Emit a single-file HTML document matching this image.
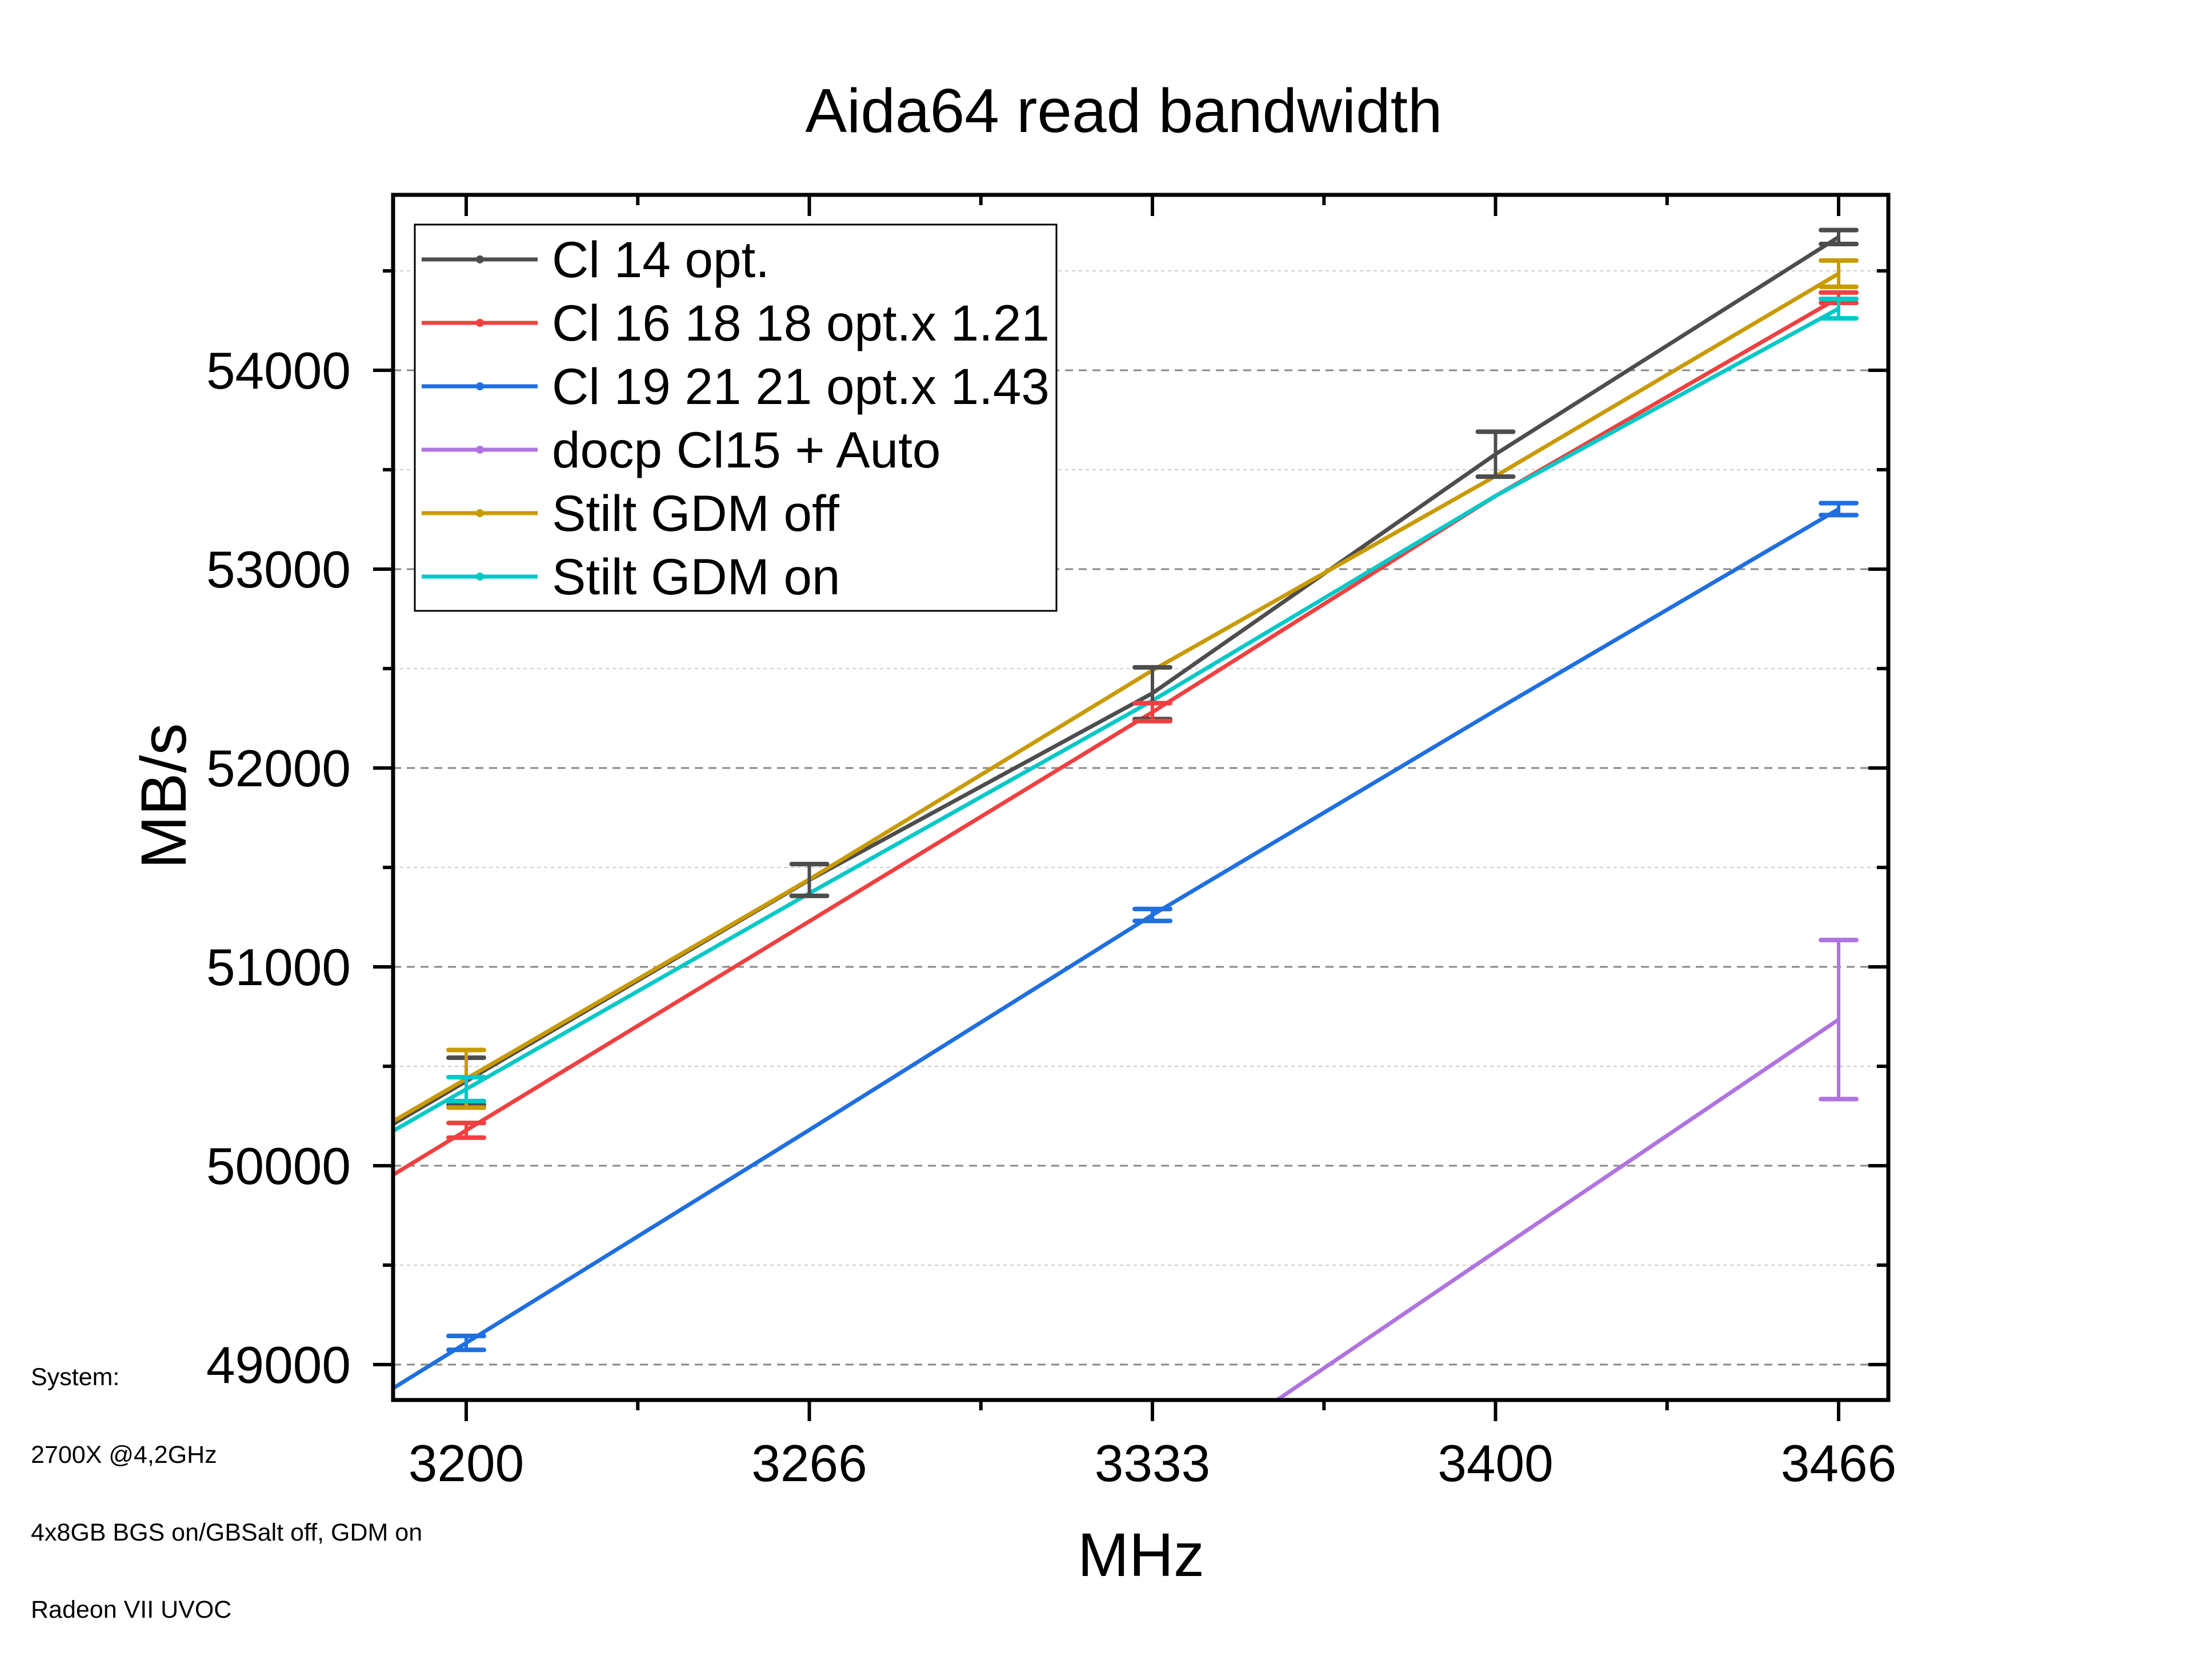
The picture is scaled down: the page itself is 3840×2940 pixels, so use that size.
<!DOCTYPE html>
<html><head><meta charset="utf-8">
<style>
html,body{margin:0;padding:0;background:#fff;overflow:hidden;width:3840px;height:2940px;}
svg{display:block;}
svg text{font-family:"Liberation Sans",Arial,sans-serif;}
</style></head>
<body>
<svg id="chart" width="3840" height="2940" viewBox="0 0 3840 2940" xmlns="http://www.w3.org/2000/svg">
<rect width="3840" height="2940" fill="#fff"/>
<text x="1967" y="231" font-size="109" text-anchor="middle">Aida64 read bandwidth</text>
<text transform="translate(325,1393) rotate(-90)" font-size="112" text-anchor="middle">MB/s</text>
<text x="1997" y="2758" font-size="108" text-anchor="middle">MHz</text>
<g font-size="43">
<text x="54" y="2424">System:</text>
<text x="54" y="2560">2700X @4,2GHz</text>
<text x="54" y="2696">4x8GB BGS on/GBSalt off, GDM on</text>
<text x="54" y="2831">Radeon VII UVOC</text>
</g>
<defs><clipPath id="plotclip"><rect x="688" y="341" width="2617" height="2109"/></clipPath></defs>
<g id="grid"></g>
<g id="series" clip-path="url(#plotclip)"></g>
<g id="errs"></g>
<g id="axes"></g>
<g id="legend"></g>
</svg>
<script>
const categories = ["3200","3266","3333","3400","3466"];
const yTicks = [49000,50000,51000,52000,53000,54000];
const yMinor = [49500,50500,51500,52500,53500,54500];
const seriesNames = ["Cl 14 opt.","Cl 16 18 18 opt.x 1.21","Cl 19 21 21 opt.x 1.43","docp Cl15 + Auto","Stilt GDM off","Stilt GDM on"];
const seriesColors = ["#4d4d4d","#f04040","#1f6fe0","#b074e0","#c99a00","#00c8c8"];
const cl14 = [50425,51437,52376,53578,54670];
const cl16 = [50178,51229,52281,53368,54365];
const cl19 = [49109,50180,51261,52290,53302];
const docp = [46060,47230,48396,49568,50735];
const stiltOff = [50437,51440,52491,53468,54486];
const stiltOn = [50385,51370,52339,53368,54310];
const cl14Err = [118,80,130,113,35];
const cl16Err = [37,0,45,0,26];
const cl19Err = [35,0,30,0,30];
const docpErr = [0,0,0,0,400];
const stiltOffErr = [145,0,0,0,66];
const stiltOnErr = [60,0,0,0,49];
const allValues = [cl14,cl16,cl19,docp,stiltOff,stiltOn];
const allErrs = [cl14Err,cl16Err,cl19Err,docpErr,stiltOffErr,stiltOnErr];
const errMask = [[1,1,1,1,1],[1,0,1,0,1],[1,0,1,0,1],[0,0,0,0,1],[1,0,0,0,1],[1,0,0,0,1]];

const NS="http://www.w3.org/2000/svg";
const L=688,R=3305,T=341,B=2450;
function xPos(i){return 816+600.5*i;}
function yPos(v){return 648+(54000-v)*0.348;}
function mk(tag,attrs,parent){const e=document.createElementNS(NS,tag);for(const k in attrs)e.setAttribute(k,attrs[k]);parent.appendChild(e);return e;}
const grid=document.getElementById('grid'),ser=document.getElementById('series'),errs=document.getElementById('errs'),axes=document.getElementById('axes'),leg=document.getElementById('legend');

yTicks.forEach(v=>{const g=mk('line',{x1:L,x2:R,y1:yPos(v),y2:yPos(v),stroke:'#888','stroke-width':3,'stroke-dasharray':'14 10'},grid);

});
yMinor.forEach(v=>{const g=mk('line',{x1:L,x2:R,y1:yPos(v),y2:yPos(v),stroke:'#ccc','stroke-width':2,'stroke-dasharray':'6 6'},grid);

});

allValues.forEach((vals,s)=>{
  const c=seriesColors[s];
  const slope=(yPos(vals[1])-yPos(vals[0]))/(xPos(1)-xPos(0));
  let pts=[[L,yPos(vals[0])-slope*(xPos(0)-L)]];
  vals.forEach((v,i)=>pts.push([xPos(i),yPos(v)]));
  const p=mk('polyline',{points:pts.map(q=>q.join(',')).join(' '),fill:'none',stroke:c,'stroke-width':7,'stroke-linejoin':'round'},ser);
  
  
  vals.forEach((v,i)=>{
    if(!errMask[s][i])return;
    const e=allErrs[s][i],x=xPos(i);
    const g=mk('g',{stroke:c,'stroke-width':8,'stroke-linecap':'round'},errs);
    
    
    mk('line',{x1:x,x2:x,y1:yPos(v+e),y2:yPos(v-e),'stroke-width':6},g);
    mk('line',{x1:x-31,x2:x+31,y1:yPos(v+e),y2:yPos(v+e)},g);
    mk('line',{x1:x-31,x2:x+31,y1:yPos(v-e),y2:yPos(v-e)},g);
  });
});

const fr=mk('rect',{x:L,y:T,width:R-L,height:B-T,fill:'none',stroke:'#000','stroke-width':7},axes);


yTicks.forEach(v=>{const y=yPos(v);
  mk('line',{x1:L-35,x2:L,y1:y,y2:y,stroke:'#000','stroke-width':6},axes);
  mk('line',{x1:R-35,x2:R,y1:y,y2:y,stroke:'#000','stroke-width':6},axes);
  const t=mk('text',{x:614,y:y+32,'font-size':91,'text-anchor':'end'},axes);t.textContent=v;
  
  });
yMinor.forEach(v=>{const y=yPos(v);
  mk('line',{x1:L-18,x2:L,y1:y,y2:y,stroke:'#000','stroke-width':6},axes);
  mk('line',{x1:R-20,x2:R,y1:y,y2:y,stroke:'#000','stroke-width':6},axes);});
categories.forEach((c,i)=>{const x=xPos(i);
  mk('line',{x1:x,x2:x,y1:B,y2:B+37,stroke:'#000','stroke-width':6},axes);
  mk('line',{x1:x,x2:x,y1:T,y2:T+37,stroke:'#000','stroke-width':6},axes);
  if(i<categories.length-1){const xm=x+300.25;
    mk('line',{x1:xm,x2:xm,y1:B,y2:B+18,stroke:'#000','stroke-width':6},axes);
    mk('line',{x1:xm,x2:xm,y1:T,y2:T+18,stroke:'#000','stroke-width':6},axes);}
  const t=mk('text',{x:x,y:2592,'font-size':91,'text-anchor':'middle'},axes);t.textContent=c;
  
  });

const lb=mk('rect',{x:726,y:393,width:1123,height:676,fill:'#fff',stroke:'#000','stroke-width':3},leg);


seriesNames.forEach((n,s)=>{const y=454+111*s;
  const g=mk('g',{},leg);
  
  
  mk('line',{x1:738,x2:941,y1:y,y2:y,stroke:seriesColors[s],'stroke-width':7},g);
  mk('circle',{cx:840,cy:y,r:7,fill:seriesColors[s]},g);
  const t=mk('text',{x:966,y:y+31,'font-size':89},g);t.textContent=n;});
</script>
</body></html>
